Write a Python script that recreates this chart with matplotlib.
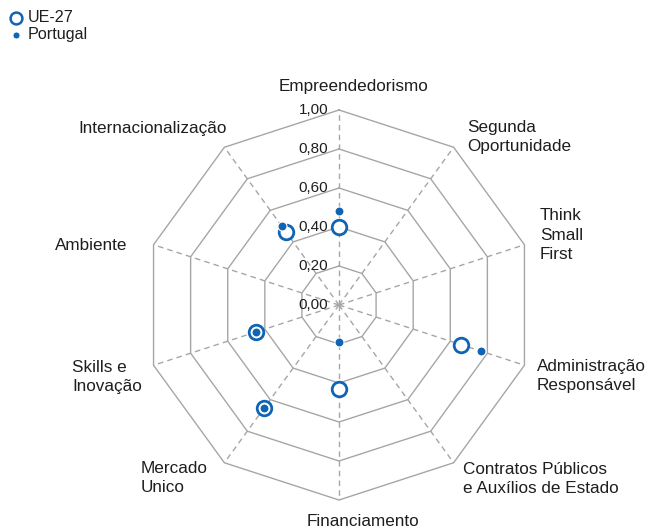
import numpy as np
import matplotlib
matplotlib.use('Agg')
from matplotlib import pyplot as plt

plt.rcParams['font.family'] = ['Liberation Sans', 'DejaVu Sans']

# categories, clockwise from the top
categories = ['Empreendedorismo', 'Segunda\nOportunidade', 'Think\nSmall\nFirst',
              'Administração\nResponsável', 'Contratos Públicos\ne Auxílios de Estado',
              'Financiamento', 'Mercado\nUnico', 'Skills e\nInovação', 'Ambiente',
              'Internacionalização']
ue27 = [0.40, np.nan, np.nan, 0.66, np.nan, 0.43, 0.65, 0.45, np.nan, 0.46]
portugal = [0.48, np.nan, np.nan, 0.765, np.nan, 0.19, 0.65, 0.45, np.nan, 0.50]
ticks = [0.0, 0.2, 0.4, 0.6, 0.8, 1.0]
tick_labels = ['0,00', '0,20', '0,40', '0,60', '0,80', '1,00']

# layout (pixel space)
cx, cy, R = 339, 305, 195
label_pos = [(353, 87, 'center'), (467, 137, 'left'), (540, 235, 'left'),
             (537, 376, 'left'), (463, 479, 'left'), (363, 521, 'center'),
             (141, 478, 'left'), (72, 377, 'left'), (55, 245, 'left'),
             (78, 129, 'left')]

blue = '#0f64b4'
grid_c = '#a6a6a6'
txt_c = '#1e1e1e'

n = len(categories)
ang = np.pi / 2 - np.arange(n) * 2 * np.pi / n


def to_xy(vals):
    v = np.asarray(vals, dtype=float)
    return cx + R * v * np.cos(ang), cy - R * v * np.sin(ang)


fig = plt.figure(figsize=(6.47, 5.30), dpi=100)
ax = fig.add_axes([0, 0, 1, 1])
ax.set_xlim(0, 647)
ax.set_ylim(530, 0)
ax.axis('off')

# polygon grid
for t in ticks[1:]:
    x, y = to_xy([t] * n)
    ax.plot(np.append(x, x[0]), np.append(y, y[0]), color=grid_c, lw=1.0, zorder=1)

# spokes
for a in ang:
    ax.plot([cx, cx + R * np.cos(a)], [cy, cy - R * np.sin(a)], color=grid_c,
            lw=1.0, ls=(0, (4, 3)), zorder=1)

# tick labels
for t, lab in zip(ticks, tick_labels):
    ax.text(cx - 11, cy - R * t, lab, ha='right', va='center', fontsize=11,
            color=txt_c, zorder=3)

# category labels
for lab, (lx, ly, ha) in zip(categories, label_pos):
    ax.text(lx, ly, lab, ha=ha, va='center', fontsize=12.3, color=txt_c,
            linespacing=1.36)

# series
x, y = to_xy(ue27)
ax.plot(x, y, ls='none', marker='o', ms=10.5, mfc='white', mec=blue, mew=2.0,
        zorder=4)
x, y = to_xy(portugal)
ax.plot(x, y, ls='none', marker='o', ms=6.5, mfc=blue, mec='white', mew=0.8,
        zorder=5)

# legend
ax.plot([16], [18], ls='none', marker='o', ms=8.5, mfc='white', mec=blue, mew=1.8)
ax.text(28, 18, 'UE-27', ha='left', va='center', fontsize=11.6, color=txt_c)
ax.plot([16], [35], ls='none', marker='o', ms=5, mfc=blue, mec='white', mew=0.6)
ax.text(28, 35, 'Portugal', ha='left', va='center', fontsize=11.6, color=txt_c)

fig.savefig('out.png', dpi=100)
